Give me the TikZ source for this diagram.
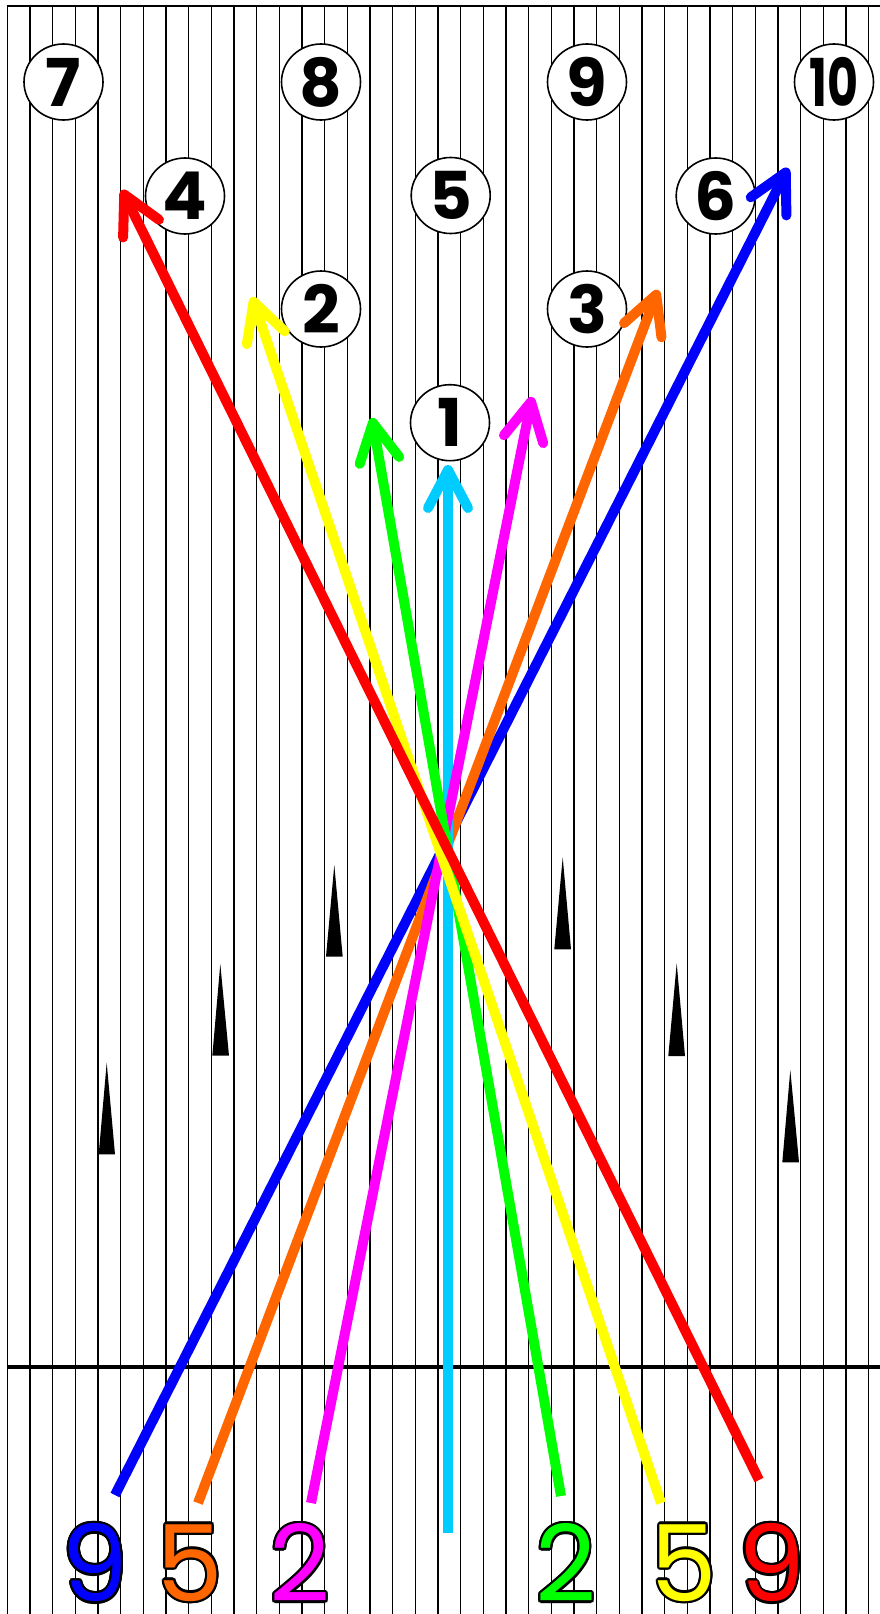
\documentclass[tikz,border=0pt]{standalone}
\usepackage{fontspec}
\setmainfont{Poppins}
\usepackage{graphicx}
\usepackage{contour}
\contourlength{2.2pt}
\usetikzlibrary{arrows.meta,shapes.geometric}
\definecolor{cBlue}{HTML}{0000FF}
\definecolor{cOrange}{HTML}{FF6600}
\definecolor{cMagenta}{HTML}{FF00FF}
\definecolor{cCyan}{HTML}{00CCFF}
\definecolor{cGreen}{HTML}{00FF00}
\definecolor{cYellow}{HTML}{FFFF00}
\definecolor{cRed}{HTML}{FF0000}
\begin{document}
\begin{tikzpicture}[x=1pt,y=-1pt,
  board/.style={line width=1.5pt,black},
  pin/.style={ellipse, draw=black, line width=1.6pt, fill=white,
    minimum width=79pt, minimum height=76pt, inner sep=0pt,
    font=\fontsize{66}{66}\selectfont\bfseries},
  shot/.style={line width=10pt, -{Straight Barb[length=38pt,width=40pt,round]}},
  dart/.style={fill=black},
  lanelabel/.style={font=\fontsize{106}{106}\selectfont, inner sep=0pt}]
\useasboundingbox (0,0) rectangle (880,1614);
\fill[white] (0,0) rectangle (880,1614);
% boards
\foreach \k in {0,...,38}
  \draw[board] ({7.33+22.667*\k},6) -- ({7.33+22.667*\k},1614);
\draw[line width=1.5pt] (6.6,6) -- (880,6);
\draw[line width=4.5pt] (6.6,1367) -- (880,1367);
% targeting arrows
\fill[dart] (106.7,1062.7) -- (115,1154.3) -- (98.7,1154.3) -- cycle;
\fill[dart] (220.3,964) -- (229,1055.7) -- (212.3,1055.7) -- cycle;
\fill[dart] (334.3,865) -- (342.7,956.7) -- (326,956.7) -- cycle;
\fill[dart] (562.7,857.3) -- (571,949.3) -- (554.3,949.3) -- cycle;
\fill[dart] (676.7,963.3) -- (685,1056) -- (668.3,1056) -- cycle;
\fill[dart] (790.3,1070) -- (799,1162.3) -- (782.3,1162.3) -- cycle;
% pins
\node[pin] (p7) at (63.5,82) {7};
\node[pin] (p8) at (321,82) {8};
\node[pin] (p9) at (587,82) {9};
\node[pin] (p10) at (834,82) {\scalebox{0.72}[1]{10}};
\node[pin] (p4) at (185,196) {4};
\node[pin] (p5) at (450.7,195.5) {5};
\node[pin] (p6) at (715.7,196) {6};
\node[pin] (p2) at (321,309) {2};
\node[pin] (p3) at (587,309) {3};
\node[pin] (p1) at (450,422.7) {1};
% shot lines
\coordinate (sBlue) at (115,1495);   \coordinate (tBlue) at (788,168);
\coordinate (sOrange) at (198,1503); \coordinate (tOrange) at (658,290);
\coordinate (sCyan) at (448,1533);   \coordinate (tCyan) at (448,465);
\coordinate (sMagenta) at (311,1503);\coordinate (tMagenta) at (532,397);
\coordinate (sGreen) at (561,1496);  \coordinate (tGreen) at (372,418);
\coordinate (sYellow) at (661,1503); \coordinate (tYellow) at (252,297);
\coordinate (sRed) at (759,1480);    \coordinate (tRed) at (122,190);
\draw[shot,cBlue] (sBlue) -- (tBlue);
\draw[shot,cOrange] (sOrange) -- (tOrange);
\draw[shot,cCyan] (sCyan) -- (tCyan);
\draw[shot,cMagenta] (sMagenta) -- (tMagenta);
\draw[shot,cGreen] (sGreen) -- (tGreen);
\draw[shot,cYellow] (sYellow) -- (tYellow);
\draw[shot,cRed] (sRed) -- (tRed);
% bottom labels
\node[lanelabel,text=cBlue] (lBlue) at (95,1564) {\contour{black}{9}};
\node[lanelabel,text=cOrange] (lOrange) at (190,1564) {\contour{black}{5}};
\node[lanelabel,text=cMagenta] (lMagenta) at (300,1564) {\contour{black}{2}};
\node[lanelabel,text=cGreen] (lGreen) at (566,1564) {\contour{black}{2}};
\node[lanelabel,text=cYellow] (lYellow) at (684,1564) {\contour{black}{5}};
\node[lanelabel,text=cRed] (lRed) at (771.5,1564) {\contour{black}{9}};
\end{tikzpicture}
\end{document}
